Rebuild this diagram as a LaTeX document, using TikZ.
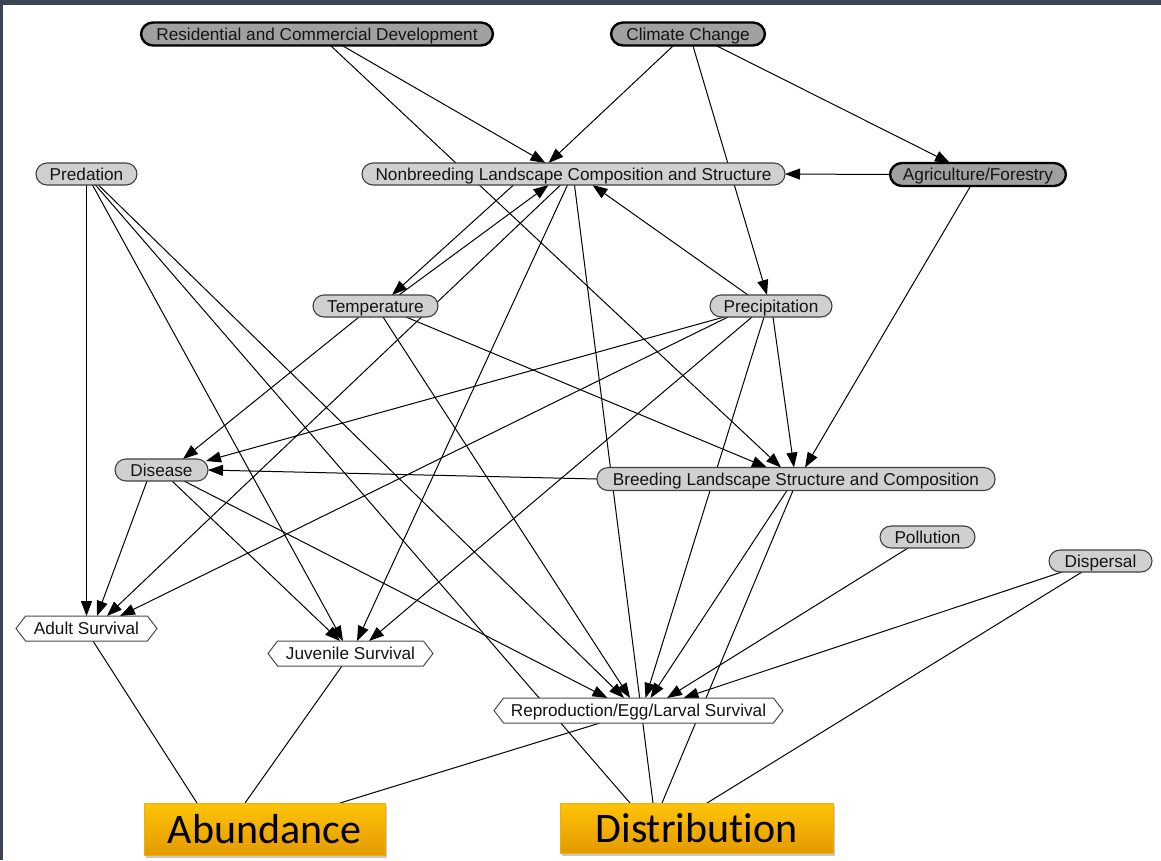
\documentclass[tikz,border=0pt]{standalone}
\usepackage{fontspec}
\setmainfont{Liberation Sans}
\newfontfamily\calibrifont[Ligatures={NoCommon}]{Carlito}
\usetikzlibrary{shapes.symbols,arrows.meta,backgrounds,shadows}
\definecolor{barcol}{HTML}{3B4555}
\definecolor{lightnode}{HTML}{D0D0D0}
\definecolor{darknode}{HTML}{A0A0A0}
\definecolor{orangetop}{HTML}{FFC409}
\definecolor{orangebot}{HTML}{E39A00}
\definecolor{orangeline}{HTML}{F0B000}
\begin{document}
\begin{tikzpicture}[x=1pt,y=-1pt,
  every node/.style={inner sep=0pt,outer sep=0pt,text=black!92},
  nodefont/.style={font=\fontsize{17.2}{19}\selectfont,text height=13pt,text depth=0.6pt},
  lightbox/.style={nodefont,rectangle,draw=black!75,line width=1.1pt,fill=lightnode,rounded corners=11pt,minimum height=22pt},
  darkbox/.style={nodefont,rectangle,draw=black,line width=2.4pt,fill=darknode,rounded corners=12pt,minimum height=23pt},
  hexbox/.style={nodefont,signal,signal to=east and west,signal pointer angle=105,draw=black!70,line width=1pt,fill=white,minimum height=25pt},
  orangebox/.style={rectangle,draw=orangeline,line width=0.8pt,top color=orangetop,bottom color=orangebot,font=\calibrifont\fontsize{42}{46}\selectfont,text=black,drop shadow={shadow xshift=2pt,shadow yshift=-3pt,opacity=0.35,fill=black!60}},
  arr/.style={line width=1pt,draw=black,-{Triangle[length=15pt,width=11pt]}},
  ln/.style={line width=1pt,draw=black}
]
% nodes
\node[darkbox,minimum width=352pt] (res) at (317,34) {Residential and Commercial Development};
\node[darkbox,minimum width=154pt] (cc) at (688,34) {Climate Change};
\node[lightbox,minimum width=101pt] (pred) at (86.5,174) {Predation};
\node[lightbox,minimum width=423pt] (nb) at (573.5,174) {Nonbreeding Landscape Composition and Structure};
\node[darkbox,minimum width=176pt] (agf) at (978,174.5) {Agriculture/Forestry};
\node[lightbox,minimum width=125pt] (temp) at (375.5,306) {Temperature};
\node[lightbox,minimum width=122pt] (precip) at (771,306) {Precipitation};
\node[lightbox,minimum width=93pt] (disease) at (161.5,470) {Disease};
\node[lightbox,minimum width=398pt,minimum height=23pt] (bl) at (796,479) {Breeding Landscape Structure and Composition};
\node[lightbox,minimum width=95pt] (poll) at (927.5,537) {Pollution};
\node[lightbox,minimum width=103pt] (disp) at (1100.5,561) {Dispersal};
\node[hexbox,minimum width=141pt] (adult) at (86.5,628.5) {Adult Survival};
\node[hexbox,minimum width=165pt] (juv) at (350.5,653.5) {Juvenile Survival};
\node[hexbox,minimum width=289pt] (repro) at (638.5,710.5) {Reproduction/Egg/Larval Survival};
\node[orangebox,minimum width=241pt,minimum height=52pt] (abund) at (264.5,829) {Abundance};
\node[orangebox,minimum width=273pt,minimum height=50pt] (distr) at (696.5,828) {Distribution};
% frame
\fill[barcol] (0,0) rectangle (1161,5);
\fill[barcol] (0,0) rectangle (2.5,860);
\begin{pgfonlayer}{background}
\fill[white] (0,0) rectangle (1161,860);
% edges
\draw[arr] ([shift={(26,12)}]res.center) -- ([shift={(-28,-11)}]nb.center);
\draw[arr] ([shift={(14,12)}]res.center) -- ([shift={(-15,-11.5)}]bl.center);
\draw[arr] ([shift={(-15,12)}]cc.center) -- ([shift={(-25,-11)}]nb.center);
\draw[arr] ([shift={(5,12)}]cc.center) -- ([shift={(-4,-11)}]precip.center);
\draw[arr] ([shift={(29,12)}]cc.center) -- ([shift={(-28,-11.5)}]agf.center);
\draw[arr] (agf.west) -- (nb.east);
\draw[arr] ([shift={(-8,12.5)}]agf.center) -- ([shift={(9,-11.5)}]bl.center);
\draw[arr] (pred.south) -- (adult.north);
\draw[arr] ([shift={(6,11)}]pred.center) -- ([shift={(-7.5,-12.5)}]juv.center);
\draw[arr] ([shift={(12,11)}]pred.center) -- ([shift={(-14.5,-12.5)}]repro.center);
\draw[ln] ([shift={(9,11)}]pred.center) -- ([shift={(-66.5,-25)}]distr.center);
\draw[arr] ([shift={(-14.5,11)}]disease.center) -- ([shift={(10.5,-12.5)}]adult.center);
\draw[arr] ([shift={(10.5,11)}]disease.center) -- ([shift={(-10.5,-12.5)}]juv.center);
\draw[arr] ([shift={(22.5,11)}]disease.center) -- ([shift={(-31,-12.5)}]repro.center);
\draw[arr] ([shift={(-60,11)}]nb.center) -- ([shift={(16.5,-11)}]temp.center);
\draw[arr] ([shift={(23.5,-11)}]temp.center) -- ([shift={(-25,11)}]nb.center);
\draw[arr] ([shift={(-13,11)}]nb.center) -- ([shift={(20.5,-12.5)}]adult.center);
\draw[arr] ([shift={(-6,11)}]nb.center) -- ([shift={(6.5,-12.5)}]juv.center);
\draw[ln] ([shift={(1,11)}]nb.center) -- ([shift={(-43.5,-25)}]distr.center);
\draw[arr] ([shift={(-23,-11)}]precip.center) -- ([shift={(19,11)}]nb.center);
\draw[arr] ([shift={(-47,11)}]precip.center) -- ([shift={(44.5,-9)}]disease.center);
\draw[arr] ([shift={(-43,11)}]precip.center) -- ([shift={(33.5,-12.5)}]adult.center);
\draw[arr] ([shift={(-19,11)}]precip.center) -- ([shift={(18.5,-12.5)}]juv.center);
\draw[arr] ([shift={(-7,11)}]precip.center) -- ([shift={(7,-12.5)}]repro.center);
\draw[arr] ([shift={(2,11)}]precip.center) -- ([shift={(-2,-11.5)}]bl.center);
\draw[arr] ([shift={(-16.5,11)}]temp.center) -- ([shift={(21.5,-11)}]disease.center);
\draw[arr] ([shift={(7.5,11)}]temp.center) -- ([shift={(-8.5,-12.5)}]repro.center);
\draw[arr] ([shift={(30.5,11)}]temp.center) -- ([shift={(-29,-11.5)}]bl.center);
\draw[arr] (bl.west) -- (disease.east);
\draw[arr] ([shift={(-9,11.5)}]bl.center) -- ([shift={(12,-12.5)}]repro.center);
\draw[ln] ([shift={(-3,11.5)}]bl.center) -- ([shift={(-34.5,-25)}]distr.center);
\draw[arr] ([shift={(-19.5,11)}]poll.center) -- ([shift={(28.5,-12.5)}]repro.center);
\draw[arr] ([shift={(-38.5,11)}]disp.center) -- ([shift={(45,-12.5)}]repro.center);
\draw[ln] ([shift={(-18.5,11)}]disp.center) -- ([shift={(10.5,-25)}]distr.center);
\draw[ln] ([shift={(6.5,12.5)}]adult.center) -- ([shift={(-67.5,-26)}]abund.center);
\draw[ln] ([shift={(-8.5,12.5)}]juv.center) -- ([shift={(-19.5,-26)}]abund.center);
\draw[ln] ([shift={(-38.5,12.5)}]repro.center) -- ([shift={(75.5,-26)}]abund.center);
\end{pgfonlayer}
\end{tikzpicture}
\end{document}
